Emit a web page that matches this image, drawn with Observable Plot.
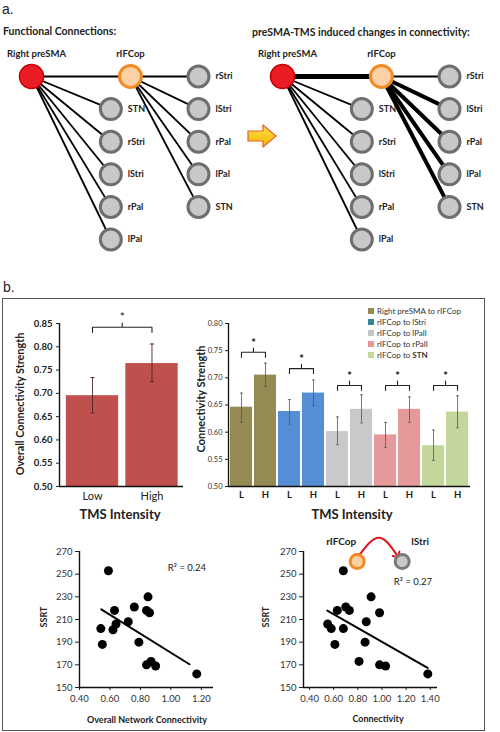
<!DOCTYPE html>
<html>
<head>
<meta charset="utf-8">
<script src="https://cdn.jsdelivr.net/npm/d3@7"></script>
<script src="https://cdn.jsdelivr.net/npm/@observablehq/plot@0.6"></script>
<style>
  body { margin: 0; background: #fff; }
  #root { position: relative; width: 500px; height: 732px; overflow: hidden; font-family: Lato, "Open Sans", sans-serif; color: #222; }
  .lbl { position: absolute; white-space: nowrap; line-height: 1; }
</style>
</head>
<body>
<div id="root"></div>
<script>
// ---------------- DATA ----------------
// Panel a: network diagram
const hubNodes = ["Right preSMA", "rIFCop"];
const preSMATargets = ["STN", "rStri", "lStri", "rPal", "lPal"];
const rIFCopTargets = ["rStri", "lStri", "rPal", "lPal", "STN"];
// connection strength class: 1 = functional connection, 2 = TMS-enhanced, 3 = strongly enhanced
const baselineHubEdge = 1;
const baselinePreSMAEdges = [1, 1, 1, 1, 1];
const baselineRIFCopEdges = [1, 1, 1, 1, 1];
const tmsHubEdge = 3;
const tmsPreSMAEdges = [1, 1, 1, 1, 1];
const tmsRIFCopEdges = [1, 2, 2, 2, 2];

// Panel b: overall connectivity strength by TMS intensity
const intensityLevels = ["Low", "High"];
const overallStrength = [0.695, 0.764];
const overallLower = [0.658, 0.725];
const overallUpper = [0.734, 0.806];
const overallBracket = 0.842;
const overallTicks = [0.50, 0.55, 0.60, 0.65, 0.70, 0.75, 0.80, 0.85];

// Panel b: connection strength per connection
const connections = ["Right preSMA to rIFCop", "rIFCop to lStri", "rIFCop to lPall", "rIFCop to rPall", "rIFCop to STN"];
const shortLevels = ["L", "H"];
const strengthLow  = [0.646, 0.638, 0.601, 0.595, 0.575];
const strengthHigh = [0.705, 0.672, 0.642, 0.642, 0.637];
const lowerLow  = [0.618, 0.615, 0.577, 0.572, 0.548];
const upperLow  = [0.672, 0.660, 0.628, 0.618, 0.604];
const lowerHigh = [0.684, 0.649, 0.617, 0.618, 0.608];
const upperHigh = [0.727, 0.696, 0.669, 0.665, 0.667];
const bracketLevels = [0.747, 0.717, 0.686, 0.686, 0.686];
const connectionTicks = [0.50, 0.55, 0.60, 0.65, 0.70, 0.75, 0.80];
const barColors = ["#948a54", "#558ed5", "#c9c8cb", "#e6999b", "#c3d69b"];
const legendColors = ["#948a54", "#31859c", "#c4c4c4", "#e6999b", "#c3d69b"];

// Scatter 1: overall network connectivity vs SSRT
const overallNet = [0.54, 0.55, 0.59, 0.63, 0.62, 0.64, 0.72, 0.76, 0.79, 0.85, 0.84, 0.86, 0.84, 0.87, 0.90, 1.17];
const ssrtA      = [202, 188, 253, 218, 201, 206, 208, 221, 190, 230, 218, 216, 170, 173, 169, 162];
const trendAX = [0.543, 1.122];
const trendAY = [219, 170.5];
const r2A = "R² = 0.24";

// Scatter 2: rIFCop-lStri connectivity vs SSRT
const ifcStriConn = [0.55, 0.58, 0.61, 0.63, 0.68, 0.70, 0.73, 0.87, 0.86, 0.91, 0.98, 0.81, 0.98, 1.03, 1.38, 0.68];
const ssrtB       = [206, 202, 188, 218, 202, 221, 218, 208, 190, 230, 216, 173, 170, 169, 162, 253];
const trendBX = [0.547, 1.378];
const trendBY = [217.9, 167.3];
const r2B = "R² = 0.27";

const ssrtTicks = [150, 170, 190, 210, 230, 250, 270];
const connTicksA = [0.40, 0.60, 0.80, 1.00, 1.20];
const connTicksB = [0.40, 0.60, 0.80, 1.00, 1.20, 1.40];

// ---------------- HELPERS ----------------
const root = document.getElementById("root");
const FONT = "Lato, 'Open Sans', sans-serif";
const baseStyle = {fontFamily: FONT, background: "transparent", overflow: "visible", color: "#222"};

function mount(svg, left, top) {
  svg.style.position = "absolute";
  svg.style.left = left + "px";
  svg.style.top = top + "px";
  root.appendChild(svg);
  return svg;
}
function label(html, x, y, o = {}) {
  const d = document.createElement("div");
  d.className = "lbl";
  d.innerHTML = html;
  d.style.left = x + "px";
  d.style.top = y + "px";
  d.style.fontSize = (o.size || 10) + "px";
  d.style.fontWeight = o.weight || "normal";
  d.style.fontFamily = o.family || FONT;
  d.style.color = o.color || "#222";
  const tx = o.anchor === "start" ? "0" : o.anchor === "end" ? "-100%" : "-50%";
  d.style.transform = `translate(${tx},-50%)` + (o.rotate ? ` rotate(${o.rotate}deg)` : "");
  root.appendChild(d);
  return d;
}
function bracketPoints(x0, x1, b, drop, bump, z) {
  const m = (x0 + x1) / 2;
  return [[x0, b - drop], [x0, b], [m, b], [m, b + bump], [m, b], [x1, b], [x1, b - drop]]
    .map(([x, y]) => ({x, y, z}));
}

// ---------------- PANEL a ----------------
const strokeForStrength = {1: 1.8, 2: 4, 3: 5};
function network(hubW, preW, ifcW) {
  const source = {name: hubNodes[0], level: 0, row: 0};
  const hub = {name: hubNodes[1], level: 1.185, row: 0};
  const preNodes = preSMATargets.map((name, i) => ({name, level: 0.95, row: i + 1}));
  const ifcNodes = rIFCopTargets.map((name, i) => ({name, level: 2, row: i}));
  const edges = [
    {from: source, to: hub, w: hubW},
    ...preNodes.map((n, i) => ({from: source, to: n, w: preW[i]})),
    ...ifcNodes.map((n, i) => ({from: hub, to: n, w: ifcW[i]}))
  ];
  const targets = [...preNodes, ...ifcNodes];
  return Plot.plot({
    width: 250, height: 262, marginLeft: 31, marginRight: 52, marginTop: 76, marginBottom: 23,
    x: {domain: [0, 2], axis: null},
    y: {domain: [0, 5], reverse: true, axis: null},
    style: baseStyle,
    marks: [
      Plot.link(edges, {x1: d => d.from.level, y1: d => d.from.row, x2: d => d.to.level, y2: d => d.to.row,
        stroke: "#000", strokeWidth: d => strokeForStrength[d.w]}),
      Plot.dot(targets, {x: "level", y: "row", r: 10.5, fill: "#c8c8c8", stroke: "#6e6e6e", strokeWidth: 3}),
      Plot.dot([hub], {x: "level", y: "row", r: 11, fill: "#fdd0a6", stroke: "#f28a22", strokeWidth: 3}),
      Plot.dot([source], {x: "level", y: "row", r: 12, fill: "#ec1c24", stroke: "#c00000", strokeWidth: 1.5}),
      Plot.text(targets, {x: "level", y: "row", text: "name", dx: 17, textAnchor: "start",
        fontWeight: "bold", fontSize: 9, fill: "#222"}),
      Plot.text([source], {x: "level", y: "row", text: "name", dy: -23, dx: 5,
        fontWeight: "bold", fontSize: 9.5, fill: "#222"}),
      Plot.text([hub], {x: "level", y: "row", text: "name", dy: -23,
        fontWeight: "bold", fontSize: 9.5, fill: "#222"})
    ]
  });
}
label("a.", 2, 9, {size: 14, family: "'Liberation Sans', Arial, sans-serif", anchor: "start"});
label("Functional Connections:", 3, 31, {size: 10.5, weight: "bold", anchor: "start"});
label("preSMA-TMS induced changes in connectivity:", 252, 32, {size: 10.5, weight: "bold", anchor: "start"});
mount(network(baselineHubEdge, baselinePreSMAEdges, baselineRIFCopEdges), 0, 0);
mount(network(tmsHubEdge, tmsPreSMAEdges, tmsRIFCopEdges), 251, 0);

// yellow block arrow between the two networks
const arrow = document.createElement("div");
arrow.className = "lbl";
arrow.style.left = "247px"; arrow.style.top = "124px";
arrow.innerHTML = `<svg width="31" height="24" viewBox="0 0 31 24">
  <defs><linearGradient id="ag" x1="0" y1="0" x2="0" y2="1"><stop offset="0" stop-color="#ffe14a"/><stop offset="1" stop-color="#f7b500"/></linearGradient></defs>
  <polygon points="1,7 16,7 16,1 29,12 16,23 16,17 1,17" fill="url(#ag)" stroke="#e4632a" stroke-width="1.2"/></svg>`;
root.appendChild(arrow);

// ---------------- PANEL b ----------------
label("b.", 3, 287, {size: 14, family: "'Liberation Sans', Arial, sans-serif", anchor: "start"});
const box = document.createElement("div");
box.style.cssText = "position:absolute;left:2px;top:298px;width:481px;height:431px;border:1.2px solid #555;";
root.appendChild(box);

// Left bar chart
const overallRows = intensityLevels.map((level, i) => ({i, level, v: overallStrength[i], lo: overallLower[i], hi: overallUpper[i]}));
const leftX = [-0.555, 1.53];
mount(Plot.plot({
  width: 200, height: 215, marginLeft: 59, marginRight: 17, marginTop: 23, marginBottom: 29,
  x: {domain: leftX, axis: null},
  y: {domain: [overallTicks[0], overallTicks[overallTicks.length - 1]], axis: null},
  style: baseStyle,
  marks: [
    Plot.rect(overallRows, {x1: d => d.i - 0.44, x2: d => d.i + 0.44, y1: overallTicks[0], y2: "v", fill: "#c0504d"}),
    Plot.ruleX(overallRows, {x: "i", y1: "lo", y2: "hi", stroke: "#4a2525", strokeWidth: 0.9}),
    Plot.link(overallRows, {x1: d => d.i - 0.035, x2: d => d.i + 0.035, y1: "lo", y2: "lo", stroke: "#4a2525", strokeWidth: 0.9}),
    Plot.link(overallRows, {x1: d => d.i - 0.035, x2: d => d.i + 0.035, y1: "hi", y2: "hi", stroke: "#4a2525", strokeWidth: 0.9}),
    Plot.line(bracketPoints(0, 1, overallBracket, 0.011, 0.009, 0), {x: "x", y: "y", z: "z", stroke: "#222", strokeWidth: 1.1}),
    Plot.text([overallBracket], {x: 0.5, y: d => d, text: () => "*", dy: -10, fontSize: 12, fill: "#222"}),
    Plot.ruleX([leftX[0]], {stroke: "#111", strokeWidth: 1.4}),
    Plot.ruleY([overallTicks[0]], {stroke: "#111", strokeWidth: 1.4}),
    Plot.axisY(overallTicks, {tickSize: 3, tickPadding: 4, tickFormat: ".2f", fontSize: 9.5, fontWeight: "bold", label: null}),
    Plot.axisX([0, 1], {tickSize: 0, tickPadding: 6, tickFormat: i => intensityLevels[i], fontSize: 11, label: null})
  ]
}), 0, 300);
label("Overall Connectivity Strength", 20, 404, {size: 10.8, weight: "bold", rotate: -90});
label("TMS Intensity", 120, 514, {size: 13, weight: "bold"});

// Right bar chart
const barRows = connections.flatMap((c, g) => [
  {g, i: 2 * g, level: shortLevels[0], v: strengthLow[g], lo: lowerLow[g], hi: upperLow[g], fillColor: barColors[g]},
  {g, i: 2 * g + 1, level: shortLevels[1], v: strengthHigh[g], lo: lowerHigh[g], hi: upperHigh[g], fillColor: barColors[g]}
]);
const brackets = connections.flatMap((c, g) => bracketPoints(2 * g, 2 * g + 1, bracketLevels[g], 0.009, 0.008, g));
const rightX = [-0.54, 9.54];
mount(Plot.plot({
  width: 310, height: 215, marginLeft: 58, marginRight: 10, marginTop: 23, marginBottom: 29,
  x: {domain: rightX, axis: null},
  y: {domain: [connectionTicks[0], connectionTicks[connectionTicks.length - 1]], axis: null},
  color: {type: "identity"},
  style: baseStyle,
  marks: [
    Plot.rect(barRows, {x1: d => d.i - 0.46, x2: d => d.i + 0.46, y1: connectionTicks[0], y2: "v", fill: "fillColor"}),
    Plot.ruleX(barRows, {x: "i", y1: "lo", y2: "hi", stroke: "#555", strokeWidth: 0.8}),
    Plot.link(barRows, {x1: d => d.i - 0.06, x2: d => d.i + 0.06, y1: "lo", y2: "lo", stroke: "#555", strokeWidth: 0.8}),
    Plot.link(barRows, {x1: d => d.i - 0.06, x2: d => d.i + 0.06, y1: "hi", y2: "hi", stroke: "#555", strokeWidth: 0.8}),
    Plot.line(brackets, {x: "x", y: "y", z: "z", stroke: "#222", strokeWidth: 1.1}),
    Plot.text(bracketLevels, {x: (d, g) => 2 * g + 0.5, y: d => d, text: () => "*", dy: -9, fontSize: 12, fontWeight: "bold", fill: "#222"}),
    Plot.ruleX([rightX[0]], {stroke: "#111", strokeWidth: 1.3}),
    Plot.ruleY([connectionTicks[0]], {stroke: "#111", strokeWidth: 1.3}),
    Plot.axisY(connectionTicks, {tickSize: 3, tickPadding: 3, tickFormat: ".2f", fontSize: 7.5, fill: "#333", label: null}),
    Plot.axisX(barRows.map(d => d.i), {tickSize: 0, tickPadding: 5, tickFormat: i => barRows[i].level, fontSize: 9.5, fontWeight: "bold", label: null})
  ]
}), 170, 300);
label("Connectivity Strength", 200, 399, {size: 11, weight: "bold", rotate: -90});
label("TMS Intensity", 352, 514, {size: 13, weight: "bold"});

// Legend
connections.forEach((c, g) => {
  const y = 310.7 + g * 11;
  const sw = document.createElement("div");
  sw.style.cssText = `position:absolute;left:368px;top:${y - 3}px;width:6px;height:6px;background:${legendColors[g]};`;
  root.appendChild(sw);
  const txt = g === connections.length - 1 ? c.replace("STN", "<b>STN</b>") : c;
  label(txt, 377, y, {size: 8, anchor: "start", color: "#333"});
});

// Scatter plots
function scatter(xs, ys, tx, ty, xDomain, xTicks, width, marginLeft, marginRight) {
  const pts = xs.map((x, i) => ({x, y: ys[i]}));
  const trend = tx.map((x, i) => ({x, y: ty[i]}));
  return Plot.plot({
    width, height: 172, marginLeft, marginRight, marginTop: 11, marginBottom: 25,
    x: {domain: xDomain, axis: null},
    y: {domain: [ssrtTicks[0], ssrtTicks[ssrtTicks.length - 1]], axis: null},
    style: baseStyle,
    marks: [
      Plot.ruleX([xDomain[0]], {stroke: "#111", strokeWidth: 1.4}),
      Plot.ruleY([ssrtTicks[0]], {stroke: "#111", strokeWidth: 1.4}),
      Plot.axisY(ssrtTicks, {tickSize: 4, tickPadding: 3, fontSize: 9.5, fill: "#333", label: null}),
      Plot.axisX(xTicks, {tickSize: 3, tickPadding: 5, tickFormat: ".2f", fontSize: 9.5, fill: "#333", label: null}),
      Plot.line(trend, {x: "x", y: "y", stroke: "#000", strokeWidth: 2}),
      Plot.dot(pts, {x: "x", y: "y", r: 4.5, fill: "#000"})
    ]
  });
}
mount(scatter(overallNet, ssrtA, trendAX, trendAY, [0.4, 1.28], connTicksA, 225, 79, 12), 0, 540);
label("SSRT", 43, 617, {size: 9, weight: "bold", rotate: -90});
label("Overall Network Connectivity", 147, 719, {size: 9, weight: "bold"});
label(r2A, 187, 568, {size: 9.5, color: "#222"});

mount(scatter(ifcStriConn, ssrtB, trendBX, trendBY, [0.35, 1.46], connTicksB, 200, 53, 13), 250, 540);
label("SSRT", 265, 617, {size: 9, weight: "bold", rotate: -90});
label("Connectivity", 378, 718, {size: 9, weight: "bold"});
label(r2B, 413, 582, {size: 9.5, color: "#222"});

// rIFCop -> lStri icon
const iconNodes = [{name: "rIFCop", k: 0}, {name: "lStri", k: 1}];
const arcPoints = [{x: 0.04, y: 0.25}, {x: 0.48, y: 0.99}, {x: 0.889, y: 0.25}];
mount(Plot.plot({
  width: 110, height: 45, marginLeft: 36.7, marginRight: 28.3, marginTop: 7, marginBottom: 14,
  x: {domain: [0, 1], axis: null}, y: {domain: [0, 1], axis: null},
  style: baseStyle,
  marks: [
    Plot.line(arcPoints, {x: "x", y: "y", curve: "natural", stroke: "#e3141b", strokeWidth: 2, markerStart: "arrow", markerEnd: "arrow"}),
    Plot.dot(iconNodes.slice(0, 1), {x: "k", y: 0, r: 7, fill: "#fdd0a6", stroke: "#f28a22", strokeWidth: 3}),
    Plot.dot(iconNodes.slice(1), {x: "k", y: 0, r: 7, fill: "#c8c8c8", stroke: "#7a7a7a", strokeWidth: 3}),
    Plot.text(iconNodes.slice(0, 1), {x: "k", y: 0, text: "name", dy: -19.5, dx: -16, fontSize: 10, fontWeight: "bold", fill: "#222"}),
    Plot.text(iconNodes.slice(1), {x: "k", y: 0, text: "name", dy: -19.5, dx: 18, fontSize: 10, fontWeight: "bold", fill: "#222"})
  ]
}), 320, 530);
</script>
</body>
</html>
